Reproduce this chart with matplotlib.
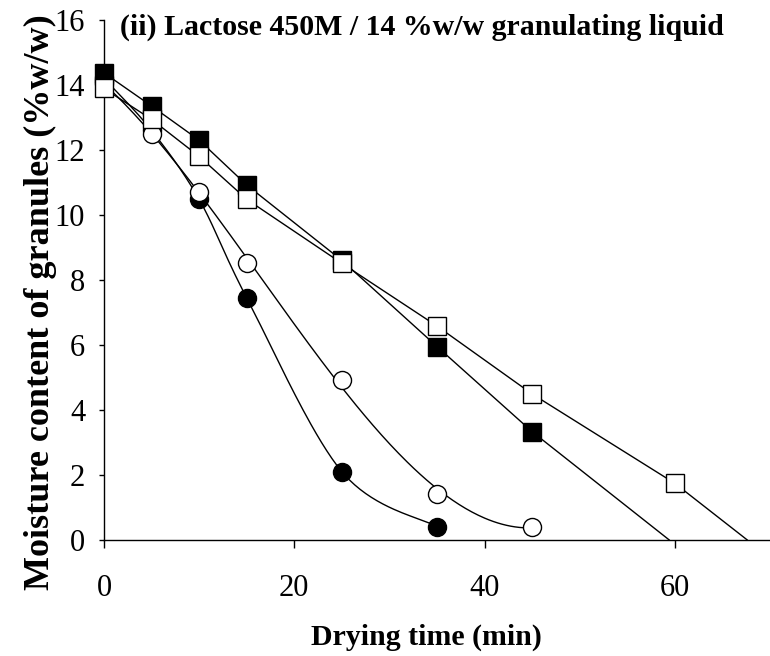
import numpy as np
import matplotlib
matplotlib.use("Agg")
import matplotlib.pyplot as plt

plt.rcParams['font.family'] = ['Liberation Serif', 'DejaVu Serif']

# Drying time (min) and moisture content (% w/w) for each run
t_circle_filled = [0, 5, 10, 15, 25, 35]
m_circle_filled = [14.2, 12.6, 10.48, 7.45, 2.1, 0.41]

t_circle_open = [0, 5, 10, 15, 25, 35, 45]
m_circle_open = [14.05, 12.5, 10.7, 8.53, 4.92, 1.42, 0.41]

t_square_filled = [0, 5, 10, 15, 25, 35, 45]
m_square_filled = [14.37, 13.35, 12.3, 10.92, 8.6, 5.95, 3.33]
t_square_filled_end = 59.4   # linear extrapolation to zero moisture

t_square_open = [0, 5, 10, 15, 25, 35, 45, 60]
m_square_open = [13.89, 12.94, 11.8, 10.48, 8.51, 6.58, 4.49, 1.74]
t_square_open_end = 67.6

x_ticks = [0, 20, 40, 60]
y_ticks = [0, 2, 4, 6, 8, 10, 12, 14, 16]


def smooth(x, y, n=40):
    # Catmull-Rom style smoothed line through the points
    x = np.asarray(x, float)
    y = np.asarray(y, float)
    px = np.concatenate([[x[0]], x, [x[-1]]])
    py = np.concatenate([[y[0]], y, [y[-1]]])
    xs, ys = [], []
    s = np.linspace(0, 1, n)
    for i in range(1, len(px) - 2):
        p0 = np.array([px[i], py[i]])
        p3 = np.array([px[i + 1], py[i + 1]])
        c1 = p0 + (np.array([px[i + 1], py[i + 1]]) - np.array([px[i - 1], py[i - 1]])) / 6
        c2 = p3 - (np.array([px[i + 2], py[i + 2]]) - np.array([px[i], py[i]])) / 6
        b = ((1 - s) ** 3)[:, None] * p0 + (3 * (1 - s) ** 2 * s)[:, None] * c1 \
            + (3 * (1 - s) * s ** 2)[:, None] * c2 + (s ** 3)[:, None] * p3
        xs.extend(b[:, 0])
        ys.extend(b[:, 1])
    return np.array(xs), np.array(ys)


def trend(x, y, deg=3, n=200):
    # polynomial trendline over the measured range
    coef = np.polyfit(x, y, deg)
    xs = np.linspace(min(x), max(x), n)
    return xs, np.polyval(coef, xs)


fig = plt.figure(figsize=(7.7, 6.56), dpi=100)
ax = fig.add_axes([0.135, 0.177, 0.865, 0.7927])

ms = 13
lw = 1.0

# circles: curved lines
cx, cy = smooth(t_circle_filled, m_circle_filled)
ax.plot(cx, cy, color='black', lw=lw, zorder=2)
cx, cy = trend(t_circle_open, m_circle_open)
ax.plot(cx, cy, color='black', lw=lw, zorder=2)

# squares: straight segments extended to zero moisture
ax.plot(t_square_filled + [t_square_filled_end], m_square_filled + [0],
        color='black', lw=lw, zorder=2)
ax.plot(t_square_open + [t_square_open_end], m_square_open + [0],
        color='black', lw=lw, zorder=2)

ax.plot(t_circle_filled, m_circle_filled, 'o', ms=ms, mfc='black', mec='black',
        mew=1, ls='none', zorder=3)
ax.plot(t_circle_open, m_circle_open, 'o', ms=ms, mfc='white', mec='black',
        mew=1, ls='none', zorder=4)
ax.plot(t_square_filled, m_square_filled, 's', ms=ms, mfc='black', mec='black',
        mew=1, ls='none', zorder=5)
ax.plot(t_square_open, m_square_open, 's', ms=ms, mfc='white', mec='black',
        mew=1, ls='none', zorder=6)

ax.set_xlim(0, 70)
ax.set_ylim(0, 16)
ax.set_xticks(x_ticks)
ax.set_yticks(y_ticks)
ax.spines['top'].set_visible(False)
ax.spines['right'].set_visible(False)
for sp in ('left', 'bottom'):
    ax.spines[sp].set_linewidth(1.0)
    ax.spines[sp].set_clip_on(False)
ax.tick_params(axis='x', direction='out', length=5.5, width=1, pad=19, labelsize=22)
ax.tick_params(axis='y', direction='out', length=3.5, width=1, pad=10, labelsize=22)
for m in ax.get_lines():
    m.set_clip_on(False)

fig.text(120 / 770, 1 - 35 / 656, '(ii) Lactose 450M / 14 %w/w granulating liquid',
         fontsize=21.5, fontweight='bold', ha='left', va='baseline')
fig.text(426 / 770, 1 - 637 / 656, 'Drying time (min)', fontsize=21.5,
         fontweight='bold', ha='center', va='center')
fig.text(40 / 770, 1 - 302 / 656, 'Moisture content of granules (%w/w)',
         fontsize=26, fontweight='bold', rotation=90, ha='center', va='center')

fig.savefig('out.png', dpi=100)
